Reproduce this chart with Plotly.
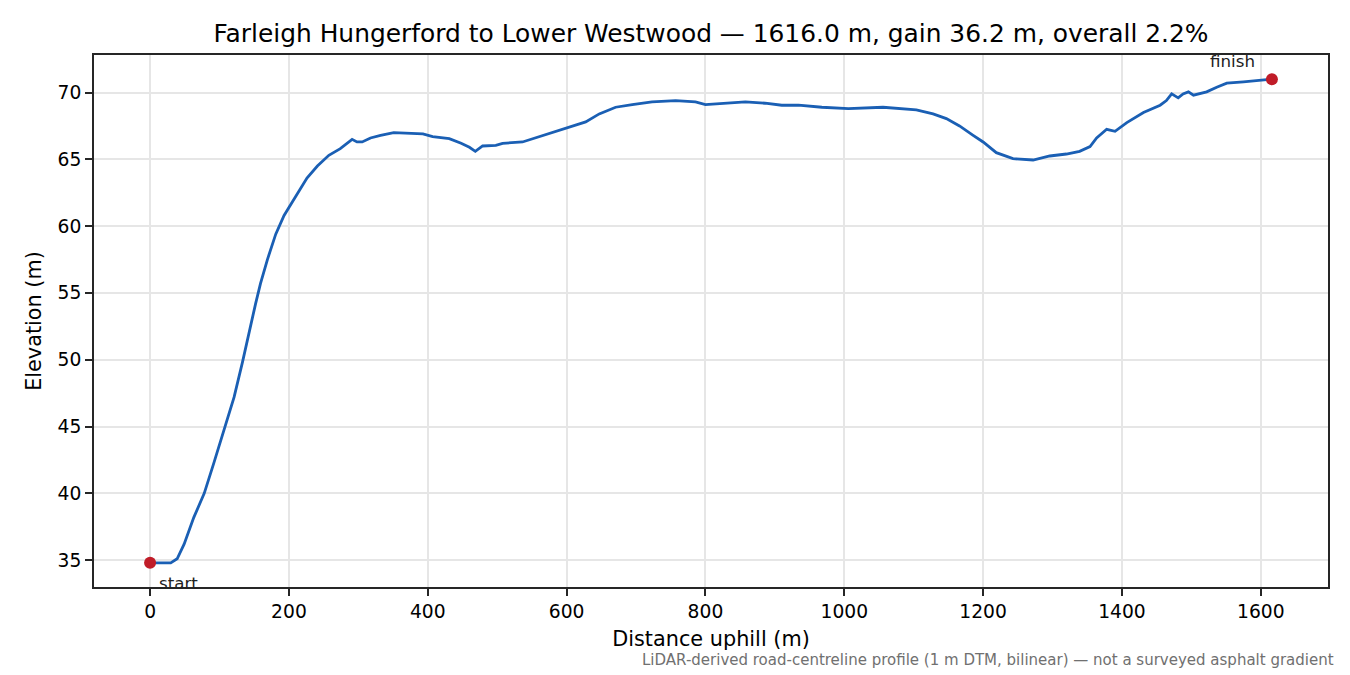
import plotly.graph_objects as go

title_text = "Farleigh Hungerford to Lower Westwood — 1616.0 m, gain 36.2 m, overall 2.2%"
footnote = "LiDAR-derived road-centreline profile (1 m DTM, bilinear) — not a surveyed asphalt gradient"

distance_m = [0, 29.7, 39, 49, 63, 78, 92, 106.5, 121, 133, 142.4, 152, 159, 169, 181, 193, 200,
              212, 226, 241, 257.5, 274, 284, 291, 298, 305.5, 317.5, 332, 351, 380, 393, 407,
              431, 448, 460, 468.5, 479, 498, 507.8, 536.5, 560, 584, 613, 627.5, 647, 670.6,
              694.6, 723, 757, 785.6, 800, 824, 857.5, 886, 910, 934, 967.7, 1006, 1055.8,
              1103.8, 1127.9, 1147, 1166, 1185.6, 1200, 1219, 1243, 1272, 1296, 1320, 1339,
              1354, 1363.5, 1378, 1390, 1407, 1431, 1455, 1464, 1471.6, 1481, 1488, 1495.7,
              1503, 1522, 1536.5, 1551, 1575, 1594, 1616]
elevation_m = [34.8, 34.8, 35.1, 36.2, 38.2, 40.0, 42.3, 44.7, 47.2, 49.8, 52.1, 54.2, 55.7, 57.5,
               59.4, 60.8, 61.4, 62.4, 63.6, 64.5, 65.3, 65.8, 66.2, 66.5, 66.3, 66.3, 66.6, 66.8,
               67.0, 66.9, 66.9, 66.7, 66.55, 66.2, 65.9, 65.6, 66.0, 66.05, 66.2, 66.3, 66.7,
               67.1, 67.55, 67.8, 68.4, 68.9, 69.1, 69.3, 69.4, 69.3, 69.1, 69.2, 69.3, 69.2,
               69.05, 69.05, 68.9, 68.8, 68.9, 68.7, 68.4, 68.05, 67.5, 66.8, 66.3, 65.5, 65.05,
               64.95, 65.25, 65.4, 65.6, 65.95, 66.6, 67.25, 67.1, 67.75, 68.5, 69.05, 69.4,
               69.9, 69.6, 69.9, 70.05, 69.8, 70.05, 70.4, 70.7, 70.8, 70.9, 71.0]

end_labels = ["start", "finish"]
end_x = [distance_m[0], distance_m[-1]]
end_y = [elevation_m[0], elevation_m[-1]]

x_ticks = [0, 200, 400, 600, 800, 1000, 1200, 1400, 1600]
y_ticks = [35, 40, 45, 50, 55, 60, 65, 70]

FONT = "DejaVu Sans"
LINE = "#1a5fb4"
DOT = "#c01c28"

fig = go.Figure()
fig.add_trace(go.Scatter(x=distance_m, y=elevation_m, mode="lines",
                         line=dict(color=LINE, width=2.8), showlegend=False, hoverinfo="x+y"))
fig.add_trace(go.Scatter(x=end_x, y=end_y, mode="markers",
                         marker=dict(color=DOT, size=12), showlegend=False))

fig.add_annotation(x=end_x[0], y=end_y[0], text=end_labels[0], showarrow=False,
                   xanchor="left", yanchor="middle", xshift=7, yshift=-20,
                   font=dict(family=FONT, size=16.7, color="#222"))
fig.add_annotation(x=end_x[1], y=end_y[1], text=end_labels[1], showarrow=False,
                   xanchor="right", yanchor="middle", xshift=-15, yshift=18,
                   font=dict(family=FONT, size=16.7, color="#222"))

fig.add_annotation(xref="paper", yref="paper", x=1.0065, y=-0.137, text=footnote, showarrow=False,
                   xanchor="right", yanchor="middle", font=dict(family=FONT, size=15, color="#707070"))

axis_common = dict(showline=True, linecolor="#262626", linewidth=1.8, mirror=True,
                   ticks="outside", ticklen=7, tickwidth=1.6, tickcolor="#262626", showgrid=True,
                   gridcolor="#e6e6e6", gridwidth=1.6, zeroline=False,
                   tickfont=dict(family=FONT, size=18.7, color="black"))

fig.update_layout(
    width=1342, height=667,
    paper_bgcolor="white", plot_bgcolor="white",
    margin=dict(l=86, r=22, t=47, b=88),
    title=dict(text=title_text, x=(86 + (1328 - 94) / 2) / 1342, xanchor="center",
               y=1 - 25 / 667, yanchor="middle",
               xref="container", font=dict(family=FONT, size=24.9, color="black")),
    xaxis=dict(range=[-80.8, 1696.8], tickvals=x_ticks,
               title=dict(text="Distance uphill (m)", font=dict(family=FONT, size=20.8, color="black"), standoff=10),
               **axis_common),
    yaxis=dict(range=[32.99, 72.81], tickvals=y_ticks,
               title=dict(text="Elevation (m)", font=dict(family=FONT, size=20.8, color="black"), standoff=10),
               **axis_common),
    font=dict(family=FONT),
)

fig.write_html("out.html")
